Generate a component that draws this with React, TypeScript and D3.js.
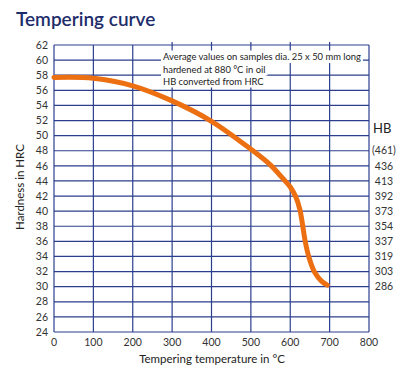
import React, { useEffect, useRef } from "react";
import * as d3 from "d3";

const temps = [0, 100, 200, 300, 400, 500, 550, 580, 600, 614, 624, 631, 638, 648, 662, 680, 694];
const hrc = [57.7, 57.6, 56.6, 54.6, 51.9, 48.2, 46.1, 44.4, 43.2, 41.9, 40.3, 38.3, 36.0, 33.8, 31.9, 30.7, 30.2];
const xTicks = [0, 100, 200, 300, 400, 500, 600, 700, 800];
const yTicks = [24, 26, 28, 30, 32, 34, 36, 38, 40, 42, 44, 46, 48, 50, 52, 54, 56, 58, 60, 62];
const hbValues = ["(461)", "436", "413", "392", "373", "354", "337", "319", "303", "286"];
const hbHrc = [48, 46, 44, 42, 40, 38, 36, 34, 32, 30];
const notes = [
  "Average values on samples dia. 25 x 50 mm long",
  "hardened at 880 °C in oil",
  "HB converted from HRC",
];

const W = 419, H = 370;
const L = 54, R = 369, T = 45, B = 332;
const GRID = "#2b3f8e";
const FONT = "Lato, 'Open Sans', sans-serif";

export default function App() {
  const ref = useRef<SVGSVGElement>(null);
  useEffect(() => {
    const svg = d3.select(ref.current);
    svg.selectAll("*").remove();
    const x = d3.scaleLinear().domain([0, 800]).range([L, R]);
    const y = d3.scaleLinear().domain([24, 62]).range([B, T]);

    svg.append("rect").attr("width", W).attr("height", H).attr("fill", "#fff");

    svg.append("text").attr("x", 16).attr("y", 26).text("Tempering curve")
      .attr("font-family", FONT).attr("font-size", 19).attr("font-weight", 600)
      .attr("fill", "#1e2d6a");

    const g = svg.append("g");
    g.selectAll("line.h").data(yTicks).join("line")
      .attr("x1", L).attr("x2", R).attr("y1", d => y(d)).attr("y2", d => y(d))
      .attr("stroke", GRID).attr("stroke-width", 1.2);
    g.selectAll("line.v").data(xTicks).join("line")
      .attr("y1", d => (d >= 300 && d <= 700 ? T - 3 : T)).attr("y2", B)
      .attr("x1", d => x(d)).attr("x2", d => x(d))
      .attr("stroke", GRID).attr("stroke-width", 1.2);

    // annotation
    const baselines = [60, 72.5, 84.5];
    const ng = svg.append("g");
    notes.forEach((n, i) => {
      const t = ng.append("text").attr("x", 163).attr("y", baselines[i]).text(n)
        .attr("font-family", FONT).attr("font-size", 9.4).attr("fill", "#222");
      const len = (t.node() as SVGTextElement).getComputedTextLength();
      ng.insert("rect", "text").attr("x", 161).attr("y", baselines[i] - 9.5)
        .attr("width", len + 4).attr("height", 12.5).attr("fill", "#fff");
    });

    // y ticks
    svg.append("g").selectAll("text").data(yTicks).join("text")
      .attr("x", 48).attr("y", d => y(d)).attr("dy", "0.35em").attr("text-anchor", "end")
      .text(d => d).attr("font-family", FONT).attr("font-size", 10.5).attr("fill", "#333");
    svg.append("g").selectAll("text").data(xTicks).join("text")
      .attr("x", d => x(d)).attr("y", 346).attr("text-anchor", "middle")
      .text(d => d).attr("font-family", FONT).attr("font-size", 10.5).attr("fill", "#333");

    svg.append("text").attr("transform", `translate(24,187) rotate(-90)`)
      .attr("text-anchor", "middle").text("Hardness in HRC")
      .attr("font-family", FONT).attr("font-size", 11.5).attr("fill", "#222");
    svg.append("text").attr("x", 212).attr("y", 363)
      .attr("text-anchor", "middle").text("Tempering temperature in °C")
      .attr("font-family", FONT).attr("font-size", 11.5).attr("fill", "#222");

    svg.append("text").attr("x", 373).attr("y", 133).text("HB")
      .attr("font-family", FONT).attr("font-size", 13).attr("fill", "#222");
    svg.append("g").selectAll("text").data(hbValues).join("text")
      .attr("x", 384).attr("y", (d, i) => y(hbHrc[i])).attr("dy", "0.35em")
      .attr("text-anchor", "middle").text(d => d)
      .attr("font-family", FONT).attr("font-size", 10.5).attr("fill", "#333");

    const line = d3.line<number>().x((d, i) => x(temps[i])).y(d => y(d)).curve(d3.curveCatmullRom.alpha(0.5));
    svg.append("path").attr("d", line(hrc)).attr("fill", "none")
      .attr("stroke", "#ec6f12").attr("stroke-width", 5).attr("stroke-linecap", "round")
      .attr("stroke-linejoin", "round");
  }, []);
  return <svg ref={ref} width={W} height={H} style={{ display: "block", margin: "-8px 0 0 -8px" }} />;
}
